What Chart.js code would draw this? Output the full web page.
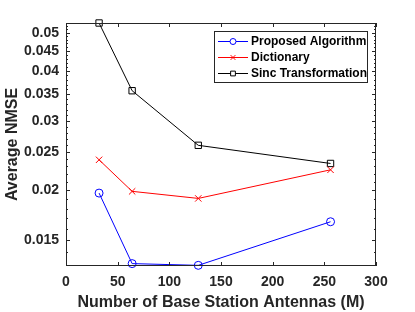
<!DOCTYPE html>
<html>
<head>
<meta charset="utf-8">
<script src="https://cdn.jsdelivr.net/npm/chart.js@4.4.1/dist/chart.umd.min.js"></script>
<style>
  html, body { margin: 0; padding: 0; background: #fff; }
  #wrap { width: 415px; height: 312px; }
</style>
</head>
<body>
<div id="wrap"><canvas id="nmseChart" width="415" height="312"></canvas></div>
<script>
const antennas = [32, 64, 128, 256];
const proposed = [0.0197, 0.01308, 0.01295, 0.01668];
const dictionary = [0.0239, 0.0199, 0.0191, 0.02255];
const sinc = [0.0529, 0.0357, 0.0260, 0.0234];

const seriesNames = ["Proposed Algorithm", "Dictionary", "Sinc Transformation"];
const yMajorTicks = [0.015, 0.02, 0.025, 0.03, 0.035, 0.04, 0.045, 0.05];
const xTicks = [0, 50, 100, 150, 200, 250, 300];

// minor ticks every 0.001 on the log axis
const yMinorTicks = [];
for (let i = 13; i <= 52; i++) yMinorTicks.push(i / 1000);

const FONT = "'Liberation Sans', Arial, sans-serif";
const AXIS = "#262626";

function pts(ys) {
  return antennas.map((x, i) => ({ x: x, y: ys[i] }));
}

// box around the plot with inward ticks on all four sides
const boxTicks = {
  id: "boxTicks",
  afterDraw(chart) {
    const { ctx, chartArea: a, scales } = chart;
    ctx.save();
    ctx.strokeStyle = AXIS;
    ctx.lineWidth = 1;
    ctx.strokeRect(a.left + 0.5, a.top + 0.5, a.right - a.left - 1, a.bottom - a.top - 1);
    ctx.beginPath();
    xTicks.forEach(v => {
      const x = Math.round(scales.x.getPixelForValue(v)) + 0.5;
      ctx.moveTo(x, a.bottom); ctx.lineTo(x, a.bottom - 4);
      ctx.moveTo(x, a.top); ctx.lineTo(x, a.top + 4);
    });
    yMinorTicks.forEach(v => {
      const y = Math.round(scales.y.getPixelForValue(v)) + 0.5;
      const len = yMajorTicks.some(m => Math.abs(m - v) < 1e-9) ? 4 : 2;
      ctx.moveTo(a.left, y); ctx.lineTo(a.left + len, y);
      ctx.moveTo(a.right, y); ctx.lineTo(a.right - len, y);
    });
    ctx.stroke();
    ctx.restore();
  }
};

// legend box inside the plot, top right
const insideLegend = {
  id: "insideLegend",
  afterDraw(chart) {
    const { ctx } = chart;
    const bx = 214, by = 31, bw = 153, bh = 51;
    ctx.save();
    ctx.fillStyle = "#fff";
    ctx.fillRect(bx, by, bw, bh);
    ctx.strokeStyle = AXIS;
    ctx.lineWidth = 1;
    ctx.strokeRect(bx + 0.5, by + 0.5, bw, bh);
    chart.data.datasets.forEach((ds, i) => {
      const y = by + 10 + i * 16;
      ctx.strokeStyle = ds.borderColor;
      ctx.lineWidth = 1;
      ctx.beginPath();
      ctx.moveTo(218, y + 0.5);
      ctx.lineTo(248, y + 0.5);
      ctx.stroke();
      ctx.fillStyle = "#fff";
      Chart.helpers.drawPoint(ctx, {
        pointStyle: ds.pointStyle,
        radius: ds.pointRadius * 0.75,
        borderWidth: 1,
        rotation: 0
      }, 233, y + 0.5);
      ctx.fillStyle = "#000";
      ctx.font = "bold 12px " + FONT;
      ctx.textBaseline = "middle";
      ctx.textAlign = "left";
      ctx.fillText(ds.label, 251, y + 1);
    });
    ctx.restore();
  }
};

function series(label, ys, color, style, radius) {
  return {
    label: label,
    data: pts(ys),
    borderColor: color,
    backgroundColor: "rgba(0,0,0,0)",
    borderWidth: 1,
    pointStyle: style,
    pointRadius: radius,
    pointBorderColor: color,
    pointBorderWidth: 1,
    pointBackgroundColor: "rgba(0,0,0,0)",
    tension: 0,
    clip: false
  };
}

new Chart(document.getElementById("nmseChart"), {
  type: "line",
  data: {
    datasets: [
      series(seriesNames[0], proposed, "rgb(0,0,255)", "circle", 4),
      series(seriesNames[1], dictionary, "rgb(255,0,0)", "crossRot", 4.5),
      series(seriesNames[2], sinc, "rgb(0,0,0)", "rect", 4.5)
    ]
  },
  options: {
    responsive: false,
    animation: false,
    layout: { padding: { top: 23, right: 39, left: 0, bottom: 0 } },
    plugins: { legend: { display: false }, tooltip: { enabled: false } },
    scales: {
      x: {
        type: "linear",
        min: 0,
        max: 300,
        afterBuildTicks: s => { s.ticks = xTicks.map(v => ({ value: v })); },
        afterFit: s => { s.height = 46; },
        grid: { display: false, drawTicks: false },
        border: { display: false },
        ticks: { color: "#262626", padding: 8, font: { family: FONT, size: 14, weight: "bold" } },
        title: {
          display: true,
          text: "Number of Base Station Antennas (M)",
          color: "#262626",
          padding: { top: 0, bottom: 0 },
          font: { family: FONT, size: 16, weight: "bold" }
        }
      },
      y: {
        type: "logarithmic",
        min: 0.0129,
        max: 0.0529,
        afterBuildTicks: s => { s.ticks = yMajorTicks.map(v => ({ value: v })); },
        afterFit: s => { s.width = 66; },
        grid: { display: false, drawTicks: false },
        border: { display: false },
        ticks: {
          color: "#262626",
          padding: 7,
          autoSkip: false,
          callback: v => String(v),
          font: { family: FONT, size: 14, weight: "bold" }
        },
        title: {
          display: true,
          text: "Average NMSE",
          color: "#262626",
          padding: { top: 3, bottom: 0 },
          font: { family: FONT, size: 16, weight: "bold" }
        }
      }
    }
  },
  plugins: [boxTicks, insideLegend]
});
</script>
</body>
</html>
